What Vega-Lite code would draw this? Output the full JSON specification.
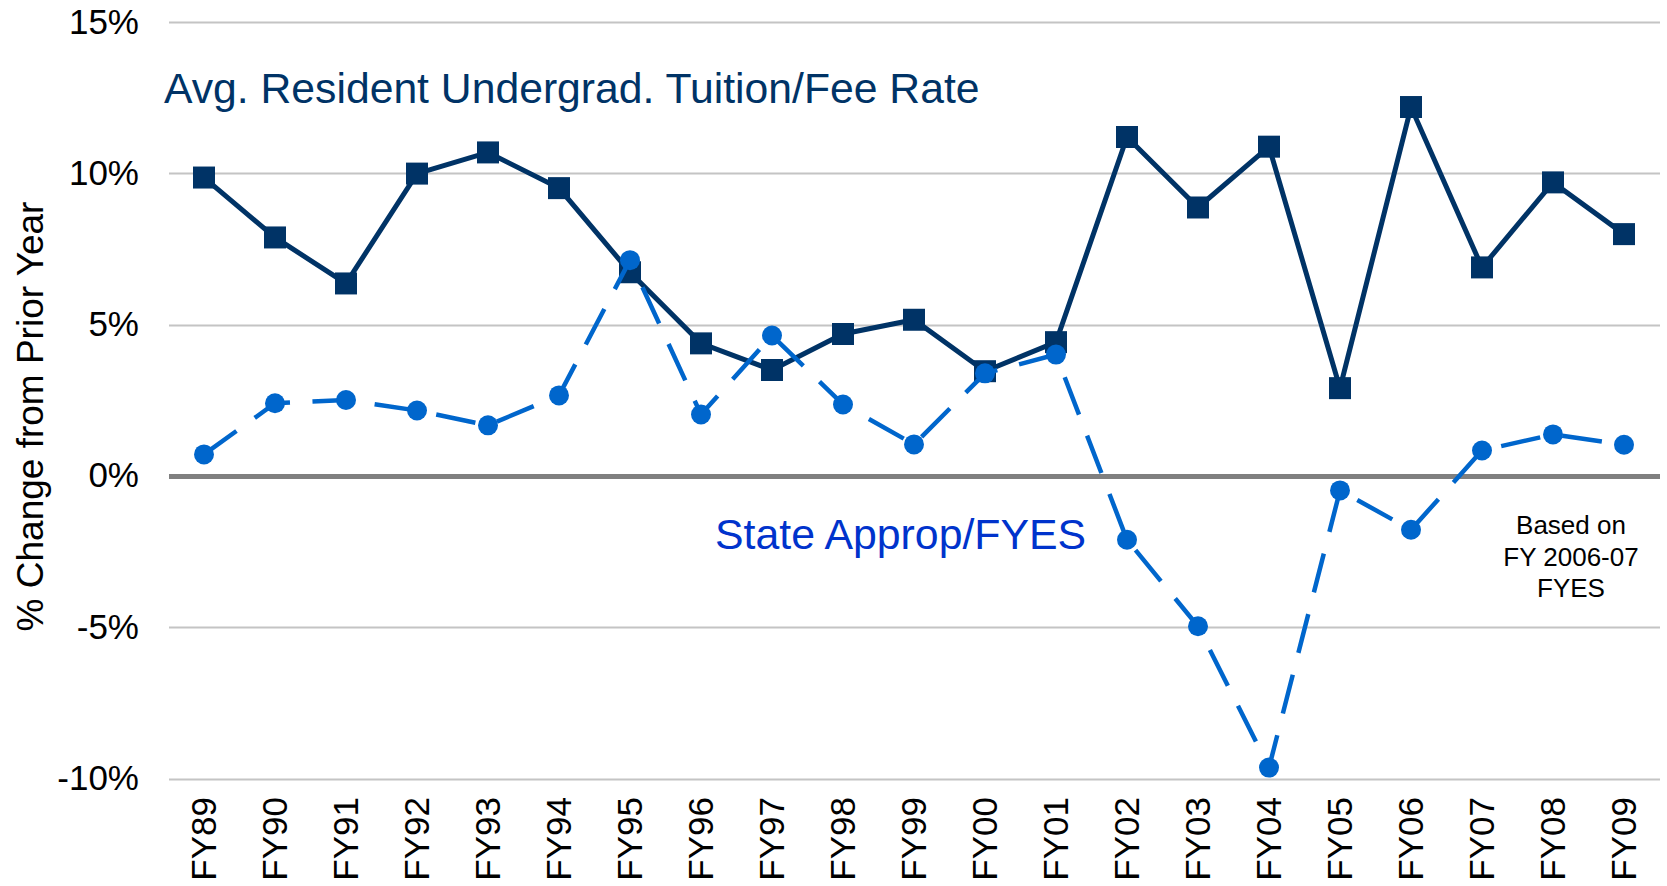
{
  "$schema": "https://vega.github.io/schema/vega-lite/v6.json",
  "width": 1491,
  "height": 756.5,
  "autosize": {"type": "none"},
  "padding": {"left": 168.5, "top": 22, "right": 7.5, "bottom": 107.5},
  "background": "white",
  "config": {
    "view": {"stroke": null},
    "font": "Liberation Sans"
  },
  "data": {
    "values": [
      {"fy": "FY89", "series": "Tuition", "value": 9.86},
      {"fy": "FY90", "series": "Tuition", "value": 7.88},
      {"fy": "FY91", "series": "Tuition", "value": 6.36},
      {"fy": "FY92", "series": "Tuition", "value": 9.99},
      {"fy": "FY93", "series": "Tuition", "value": 10.69},
      {"fy": "FY94", "series": "Tuition", "value": 9.51},
      {"fy": "FY95", "series": "Tuition", "value": 6.73},
      {"fy": "FY96", "series": "Tuition", "value": 4.38},
      {"fy": "FY97", "series": "Tuition", "value": 3.50},
      {"fy": "FY98", "series": "Tuition", "value": 4.69},
      {"fy": "FY99", "series": "Tuition", "value": 5.16},
      {"fy": "FY00", "series": "Tuition", "value": 3.46},
      {"fy": "FY01", "series": "Tuition", "value": 4.42},
      {"fy": "FY02", "series": "Tuition", "value": 11.20},
      {"fy": "FY03", "series": "Tuition", "value": 8.87},
      {"fy": "FY04", "series": "Tuition", "value": 10.88},
      {"fy": "FY05", "series": "Tuition", "value": 2.90},
      {"fy": "FY06", "series": "Tuition", "value": 12.19},
      {"fy": "FY07", "series": "Tuition", "value": 6.89},
      {"fy": "FY08", "series": "Tuition", "value": 9.70},
      {"fy": "FY09", "series": "Tuition", "value": 7.99},
      {"fy": "FY89", "series": "State", "value": 0.71},
      {"fy": "FY90", "series": "State", "value": 2.40},
      {"fy": "FY91", "series": "State", "value": 2.51},
      {"fy": "FY92", "series": "State", "value": 2.16},
      {"fy": "FY93", "series": "State", "value": 1.67},
      {"fy": "FY94", "series": "State", "value": 2.66},
      {"fy": "FY95", "series": "State", "value": 7.13},
      {"fy": "FY96", "series": "State", "value": 2.03},
      {"fy": "FY97", "series": "State", "value": 4.64},
      {"fy": "FY98", "series": "State", "value": 2.36},
      {"fy": "FY99", "series": "State", "value": 1.04},
      {"fy": "FY00", "series": "State", "value": 3.39},
      {"fy": "FY01", "series": "State", "value": 4.01},
      {"fy": "FY02", "series": "State", "value": -2.11},
      {"fy": "FY03", "series": "State", "value": -4.97},
      {"fy": "FY04", "series": "State", "value": -9.64},
      {"fy": "FY05", "series": "State", "value": -0.48},
      {"fy": "FY06", "series": "State", "value": -1.78},
      {"fy": "FY07", "series": "State", "value": 0.84},
      {"fy": "FY08", "series": "State", "value": 1.37},
      {"fy": "FY09", "series": "State", "value": 1.03}
    ]
  },
  "encoding": {
    "x": {
      "field": "fy", "type": "ordinal", "sort": null,
      "scale": {"type": "point", "padding": 0.5,
        "domain": ["FY89","FY90","FY91","FY92","FY93","FY94","FY95","FY96","FY97","FY98","FY99","FY00","FY01","FY02","FY03","FY04","FY05","FY06","FY07","FY08","FY09"]},
      "axis": {
        "title": null, "labelAngle": -90, "labelFontSize": 35, "labelColor": "#000000",
        "labelFont": "Liberation Sans",
        "domain": false, "ticks": false, "tickSize": 0, "labelPadding": 18, "grid": false
      }
    },
    "y": {
      "field": "value", "type": "quantitative",
      "scale": {"domain": [-10, 15], "nice": false, "zero": false},
      "axis": {
        "title": "% Change from Prior Year",
        "titleFontSize": 37, "titleFontWeight": "normal", "titleColor": "#000000",
        "titleFont": "Liberation Sans",
        "titleAngle": 270, "titleBaseline": "alphabetic", "titleAlign": "center",
        "titleX": -126, "titleY": 394,
        "values": [-10, -5, 0, 5, 10, 15],
        "labelExpr": "datum.value + '%'",
        "labelFontSize": 35, "labelColor": "#000000", "labelFont": "Liberation Sans",
        "domain": false, "ticks": false, "tickSize": 0, "labelPadding": 30,
        "grid": true,
        "gridColor": {"condition": {"test": "datum.value === 0", "value": "#808080"}, "value": "#C4C4C4"},
        "gridWidth": {"condition": {"test": "datum.value === 0", "value": 5}, "value": 2}
      }
    }
  },
  "layer": [
    {
      "transform": [{"filter": "datum.series === 'Tuition'"}],
      "mark": {"type": "line", "color": "#003366", "strokeWidth": 5}
    },
    {
      "transform": [{"filter": "datum.series === 'Tuition'"}],
      "mark": {"type": "point", "shape": "square", "filled": true, "color": "#003366", "size": 484, "opacity": 1}
    },
    {
      "transform": [{"filter": "datum.series === 'State'"}],
      "mark": {"type": "line", "color": "#0066CC", "strokeWidth": 4.5, "strokeDash": [40, 22.5]}
    },
    {
      "transform": [{"filter": "datum.series === 'State'"}],
      "mark": {"type": "point", "shape": "circle", "filled": true, "color": "#0066CC", "size": 400, "opacity": 1}
    },
    {
      "data": {"values": [{"fy": "FY89", "value": 12.33}]},
      "mark": {"type": "text", "text": "Avg. Resident Undergrad. Tuition/Fee Rate", "font": "Liberation Sans", "fontSize": 42.7, "color": "#003366", "align": "left", "baseline": "alphabetic", "dx": -40}
    },
    {
      "data": {"values": [{"fy": "FY96", "value": -2.40}]},
      "mark": {"type": "text", "text": "State Approp/FYES", "font": "Liberation Sans", "fontSize": 42.8, "color": "#0033CC", "align": "left", "baseline": "alphabetic", "dx": 14}
    },
    {
      "data": {"values": [{"fy": "FY08", "value": -1.93}]},
      "mark": {"type": "text", "text": ["Based on", "FY 2006-07", "FYES"], "lineHeight": 31.5, "font": "Liberation Sans", "fontSize": 26, "color": "#000000", "align": "center", "baseline": "alphabetic", "dx": 18}
    }
  ]
}
